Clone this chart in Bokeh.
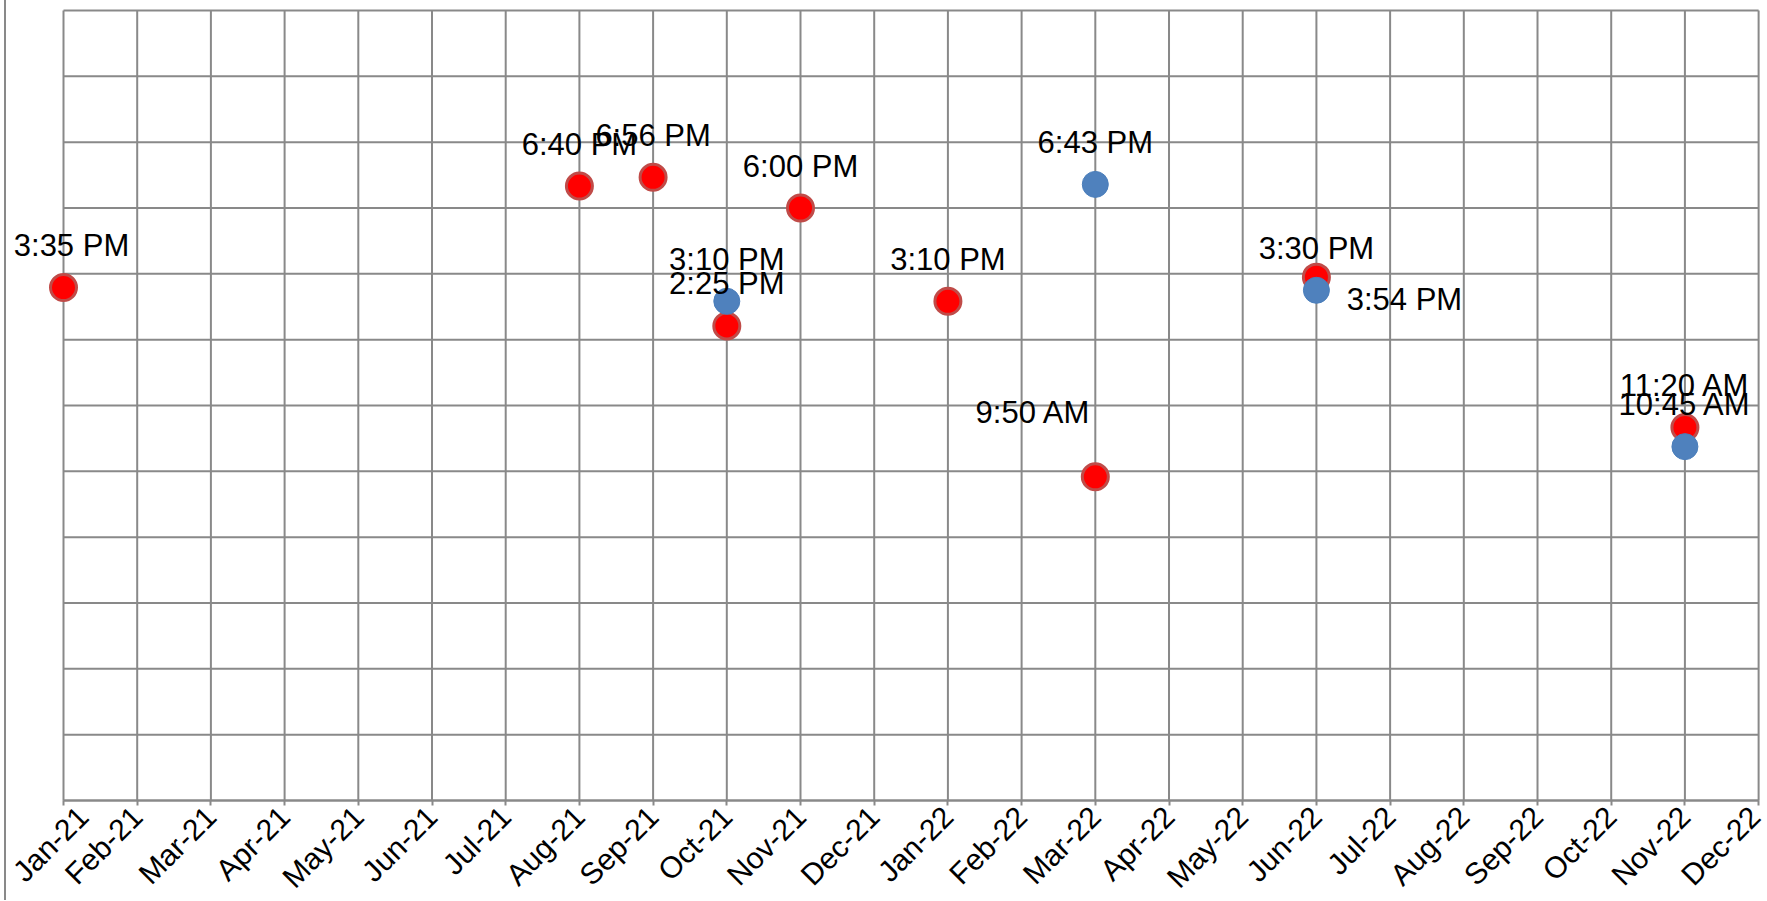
from math import pi
from bokeh.plotting import figure
from bokeh.models import FixedTicker, ColumnDataSource, Div, Range1d
from bokeh.layouts import row
from bokeh.embed import file_html
from bokeh.resources import INLINE
from bokeh.core.properties import value

# ---- data -------------------------------------------------------------
months = ["Jan-21", "Feb-21", "Mar-21", "Apr-21", "May-21", "Jun-21",
          "Jul-21", "Aug-21", "Sep-21", "Oct-21", "Nov-21", "Dec-21",
          "Jan-22", "Feb-22", "Mar-22", "Apr-22", "May-22", "Jun-22",
          "Jul-22", "Aug-22", "Sep-22", "Oct-22", "Nov-22", "Dec-22"]

red_months = ["Jan-21", "Aug-21", "Sep-21", "Oct-21", "Nov-21",
              "Jan-22", "Mar-22", "Jun-22", "Nov-22"]
red_times = ["3:35 PM", "6:40 PM", "6:56 PM", "2:25 PM", "6:00 PM",
             "3:10 PM", "9:50 AM", "3:54 PM", "11:20 AM"]

blue_months = ["Oct-21", "Mar-22", "Jun-22", "Nov-22"]
blue_times = ["3:10 PM", "6:43 PM", "3:30 PM", "10:45 AM"]

hour_ticks = [0, 2, 4, 6, 8, 10, 12, 14, 16, 18, 20, 22, 24]

# ---- label placement (screen px, layout only) -------------------------
red_label_dx = [8, 0, 0, 0, 0, 0, -62, 88, 0]
red_label_dy = [-42, -42, -42, -42, -42, -42, -64, 22, -42]
blue_label_dx = [0, 0, 0, 0]
blue_label_dy = [-42, -42, -42, -42]


def to_hours(s):
    t, ampm = s.split()
    h, m = t.split(":")
    h = int(h) % 12
    if ampm == "PM":
        h += 12
    return h + int(m) / 60.0


GRID = "#898989"
FONT = "Liberation Sans"
PX_PER_HOUR = 32.917

red_src = ColumnDataSource(dict(
    x=[months.index(m) for m in red_months],
    y=[to_hours(t) for t in red_times],
    label=red_times, dx=red_label_dx, dy=red_label_dy))
blue_src = ColumnDataSource(dict(
    x=[months.index(m) for m in blue_months],
    y=[to_hours(t) for t in blue_times],
    label=blue_times, dx=blue_label_dx, dy=blue_label_dy))

p = figure(width=1760, height=900,
           x_range=Range1d(-0.7734, 23.107),
           y_range=Range1d(-100 / PX_PER_HOUR, 24 + 10 / PX_PER_HOUR),
           y_axis_location=None, output_backend="svg",
           toolbar_location=None, min_border_left=0, min_border_right=0,
           min_border_top=0, min_border_bottom=0)
p.outline_line_color = None
p.grid.visible = False
p.background_fill_color = "white"
p.border_fill_color = "white"

n = len(months)
# vertical grid lines (one per month)
p.segment(x0=list(range(n)), y0=[hour_ticks[0]] * n,
          x1=list(range(n)), y1=[hour_ticks[-1]] * n,
          line_color=GRID, line_width=2)
# horizontal grid lines (every two hours)
p.segment(x0=[0] * len(hour_ticks), y0=hour_ticks,
          x1=[n - 1] * len(hour_ticks), y1=hour_ticks,
          line_color=GRID, line_width=2)

p.scatter("x", "y", source=red_src, size=26, fill_color="#FF0000",
          line_color="#C04B48", line_width=3)
p.scatter("x", "y", source=blue_src, size=26, fill_color="#4F81BD",
          line_color="#4A7EBB", line_width=1)

for src in (red_src, blue_src):
    p.text("x", "y", text="label", source=src, x_offset="dx", y_offset="dy",
           text_align="center", text_baseline="alphabetic",
           text_font=value(FONT), text_font_size="31px", text_color="black")

ax = p.xaxis[0]
ax.fixed_location = 0
ax.ticker = FixedTicker(ticks=list(range(n)))
ax.major_label_overrides = {i: m for i, m in enumerate(months)}
ax.major_label_orientation = pi / 4
ax.major_label_text_font = FONT
ax.major_label_text_font_size = "30px"
ax.major_label_text_color = "black"
ax.major_label_standoff = 6
ax.axis_line_color = GRID
ax.axis_line_width = 2
ax.major_tick_line_color = GRID
ax.major_tick_line_width = 2
ax.major_tick_in = 0
ax.major_tick_out = 5
ax.minor_tick_line_color = None
ax.bounds = (0, n - 1)

left_line = Div(text="", width=2, height=900, margin=(0, 0, 0, 4),
                styles={"background-color": GRID})

layout = row(left_line, p)
open("out.html", "w").write(file_html(layout, INLINE))
